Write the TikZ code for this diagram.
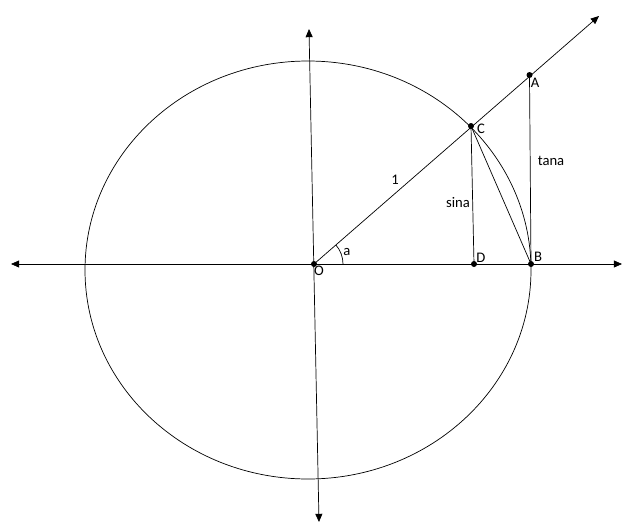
\documentclass[tikz,border=0pt]{standalone}
\usepackage{fontspec}
\setmainfont{Carlito}
\usetikzlibrary{arrows.meta}
\begin{document}
\begin{tikzpicture}[x=0.03cm, y=-0.03cm, line width=0.6pt,
    tip/.style={-{Triangle[length=7pt,width=6pt]}},
    twotips/.style={{Triangle[length=7pt,width=6pt]}-{Triangle[length=7pt,width=6pt]}},
    dot/.style={fill=black},
    lbl/.style={font=\fontsize{12.5}{14}\selectfont, inner sep=0pt}]
  \useasboundingbox (0,0) rectangle (639,527);
  \coordinate (O) at (314,264);
  \coordinate (A) at (529.5,75);
  \coordinate (B) at (531,264);
  \coordinate (C) at (471,126);
  \coordinate (D) at (474,264);
  \coordinate (xl) at (11,264);
  \coordinate (xr) at (622,264);
  \coordinate (yt) at (309,29);
  \coordinate (yb) at (319,522);
  \coordinate (ray) at (599,16);
  \draw (308,270) ellipse [x radius=223, y radius=209];
  \draw[twotips] (xl) -- (xr);
  \draw[twotips] (yt) -- (yb);
  \draw[tip] (O) -- (ray);
  \draw (A) -- (B);
  \draw (C) -- (D);
  \draw (C) -- (B);
  \draw (O) ++(29,0) arc[start angle=0, end angle=-41, radius=29];
  \foreach \p in {O,A,B,C,D}
    \fill[dot] (\p) circle (3);
  \node[lbl] (lO) at (319,271) {O};
  \node[lbl] (la) at (347,252) {a};
  \node[lbl] (l1) at (395,180) {1};
  \node[lbl] (lsin) at (458,203) {sina};
  \node[lbl] (ltan) at (551,161) {tana};
  \node[lbl] (lA) at (535,83) {A};
  \node[lbl] (lB) at (538,257) {B};
  \node[lbl] (lC) at (481,129) {C};
  \node[lbl] (lD) at (481,258) {D};
\end{tikzpicture}
\end{document}
